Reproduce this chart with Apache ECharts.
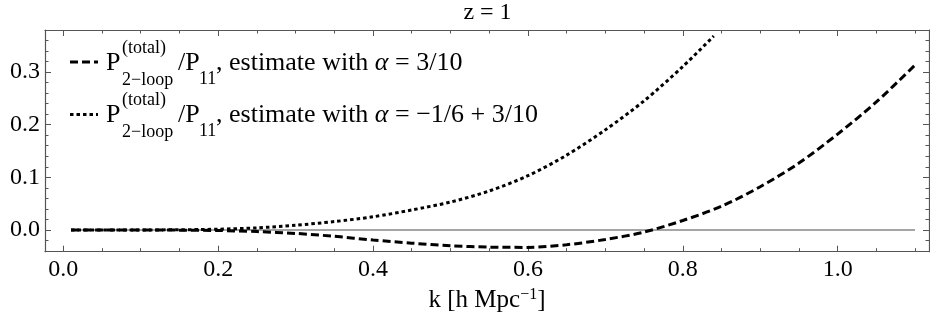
<!DOCTYPE html>
<html>
<head>
<meta charset="utf-8">
<script src="https://cdn.jsdelivr.net/npm/echarts@6/dist/echarts.min.js"></script>
<style>
  html, body { margin: 0; padding: 0; background: #fff; }
  #chart { width: 930px; height: 325px; }
</style>
</head>
<body>
<div id="chart"></div>
<script>
// Wavenumbers k [h/Mpc] sampled for the alpha = 3/10 curve and the zero reference
const kGrid = [0.01, 0.05, 0.1, 0.15, 0.2, 0.25, 0.3, 0.35, 0.4, 0.45, 0.5, 0.55,
               0.6, 0.65, 0.7, 0.75, 0.8, 0.85, 0.9, 0.95, 1.0, 1.05, 1.1];
// P_2-loop(total)/P_11 estimate, alpha = 3/10
const ratioAlpha = [0, 0, 0, -0.0003, -0.001, -0.003, -0.0065, -0.012, -0.019, -0.025, -0.030, -0.0325,
                    -0.033, -0.028, -0.018, -0.004, 0.018, 0.045, 0.082, 0.127, 0.182, 0.243, 0.313];
// Wavenumbers for the alpha = -1/6 + 3/10 curve (leaves the plot range near k = 0.84)
const kShifted = [0.01, 0.05, 0.1, 0.15, 0.2, 0.25, 0.3, 0.35, 0.4, 0.45, 0.5, 0.55,
                  0.6, 0.65, 0.7, 0.75, 0.8, 0.84];
const ratioShifted = [0, 0, 0.0001, 0.0004, 0.0015, 0.004, 0.009, 0.016, 0.025, 0.038, 0.053, 0.074,
                      0.103, 0.142, 0.19, 0.245, 0.31, 0.368];
// Zero reference line
const zeroLine = kGrid.map(() => 0);

// Frame ticks
const xMajorTicks = [0, 0.2, 0.4, 0.6, 0.8, 1.0];
const xMinorTicks = [0.05, 0.1, 0.15, 0.25, 0.3, 0.35, 0.45, 0.5, 0.55, 0.65, 0.7, 0.75,
                     0.85, 0.9, 0.95, 1.05, 1.1];
const yMajorTicks = [0, 0.1, 0.2, 0.3];
const yMinorTicks = [-0.04, -0.02, 0.02, 0.04, 0.06, 0.08, 0.12, 0.14, 0.16, 0.18,
                     0.22, 0.24, 0.26, 0.28, 0.32, 0.34, 0.36];

const titleText = 'z = 1';
const legendRest = ['3/10', '−1/6 + 3/10'];

const SERIF = '"Liberation Serif", "Times New Roman", serif';
const FRAME = '#555';
const X_RANGE = [-0.0236, 1.118];
const Y_RANGE = [-0.0412, 0.3795];

const pairs = (xs, ys) => xs.map((x, i) => [x, ys[i]]);

function xAxisDef(position, ticks, len, withLine, withLabels) {
  return {
    type: 'value', position, min: X_RANGE[0], max: X_RANGE[1],
    axisLine: { show: withLine, onZero: false, lineStyle: { color: FRAME, width: 1.2 } },
    axisTick: { show: true, inside: true, length: len, customValues: ticks,
                lineStyle: { color: FRAME, width: 1 } },
    axisLabel: withLabels ? {
      show: true, customValues: ticks, margin: 6, color: '#000',
      fontFamily: SERIF, fontSize: 24, formatter: v => v.toFixed(1)
    } : { show: false },
    splitLine: { show: false }
  };
}
function yAxisDef(position, ticks, len, withLine, withLabels) {
  return {
    type: 'value', position, min: Y_RANGE[0], max: Y_RANGE[1],
    axisLine: { show: withLine, onZero: false, lineStyle: { color: FRAME, width: 1.2 } },
    axisTick: { show: true, inside: true, length: len, customValues: ticks,
                lineStyle: { color: FRAME, width: 1 } },
    axisLabel: withLabels ? {
      show: true, customValues: ticks, margin: 5, color: '#000',
      fontFamily: SERIF, fontSize: 24, formatter: v => v.toFixed(1)
    } : { show: false },
    splitLine: { show: false }
  };
}

// Legend drawn as text pieces so the stacked super/subscripts line up
function legendRow(rest, dash, i) {
  const y = 63 + i * 52.5;
  const main = `26px ${SERIF}`;
  const small = `18px ${SERIF}`;
  return [
    { type: 'line', shape: { x1: 70, y1: y - 1, x2: 98, y2: y - 1 },
      style: { stroke: '#000', lineWidth: 3, lineDash: dash } },
    { type: 'text', x: 106, y: y, style: { text: 'P', font: main, fill: '#000', verticalAlign: 'middle' } },
    { type: 'text', x: 122, y: y - 15, style: { text: '(total)', font: small, fill: '#000', verticalAlign: 'middle' } },
    { type: 'text', x: 122, y: y + 17, style: { text: '2−loop', font: small, fill: '#000', verticalAlign: 'middle' } },
    { type: 'text', x: 178, y: y, style: { text: '/P', font: main, fill: '#000', verticalAlign: 'middle' } },
    { type: 'text', x: 199, y: y + 16, style: { text: '11', font: small, fill: '#000', verticalAlign: 'middle' } },
    { type: 'text', x: 216, y: y, style: {
        text: `{t|, estimate with }{a|α}{t| = ${rest}}`, verticalAlign: 'middle',
        rich: {
          t: { fontFamily: SERIF, fontSize: 26, fill: '#000' },
          a: { fontFamily: SERIF, fontSize: 26, fontStyle: 'italic', fill: '#000' }
        } } }
  ];
}

const chart = echarts.init(document.getElementById('chart'), null, { renderer: 'canvas' });
chart.setOption({
  backgroundColor: '#fff',
  animation: false,
  grid: { left: 45, right: 1, top: 30, bottom: 73.3, containLabel: false, outerBoundsMode: 'none' },
  xAxis: [
    Object.assign(xAxisDef('bottom', xMajorTicks, 6, true, true), {
      name: '{m|k [h Mpc}{s|−1}{m|]}', nameLocation: 'middle', nameGap: 34,
      nameTextStyle: { rich: {
        m: { fontFamily: SERIF, fontSize: 25, color: '#000', lineHeight: 28 },
        s: { fontFamily: SERIF, fontSize: 16, color: '#000', lineHeight: 16, verticalAlign: 'top' }
      } }
    }),
    xAxisDef('top', xMajorTicks, 6, true, false),
    xAxisDef('bottom', xMinorTicks, 3.5, false, false),
    xAxisDef('top', xMinorTicks, 3.5, false, false)
  ],
  yAxis: [
    yAxisDef('left', yMajorTicks, 6, true, true),
    yAxisDef('right', yMajorTicks, 6, true, false),
    yAxisDef('left', yMinorTicks, 3.5, false, false),
    yAxisDef('right', yMinorTicks, 3.5, false, false)
  ],
  series: [
    { type: 'line', data: pairs(kGrid, zeroLine), showSymbol: false, silent: true,
      lineStyle: { color: '#888', width: 1.5 } },
    { type: 'line', name: 'alpha = 3/10', data: pairs(kGrid, ratioAlpha), showSymbol: false, smooth: 0.3,
      lineStyle: { color: '#000', width: 3, type: [8, 4], cap: 'butt' } },
    { type: 'line', name: 'alpha = -1/6 + 3/10', data: pairs(kShifted, ratioShifted), showSymbol: false, smooth: 0.3,
      lineStyle: { color: '#000', width: 3, type: [3.5, 3], cap: 'butt' } }
  ],
  graphic: [
    { type: 'text', x: 487.5, y: 13, style: { text: titleText, font: `24px ${SERIF}`, fill: '#000',
      align: 'center', verticalAlign: 'middle' } },
    ...legendRow(legendRest[0], [8, 4], 0),
    ...legendRow(legendRest[1], [3.5, 3], 1)
  ]
});
</script>
</body>
</html>
